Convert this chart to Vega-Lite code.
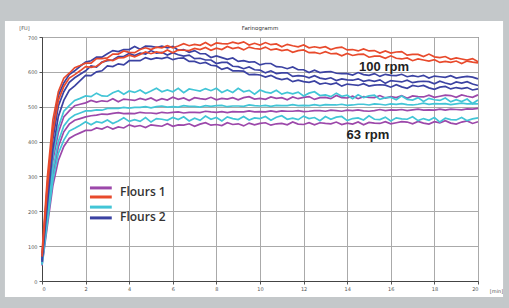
{
  "$schema": "https://vega.github.io/schema/vega-lite/v6.json",
  "width": 436,
  "height": 244,
  "autosize": {"type": "none"},
  "padding": {"left": 42, "top": 37, "right": 31, "bottom": 27},
  "background": "white",
  "config": {
    "view": {"stroke": "#555", "strokeWidth": 1},
    "axis": {"labelFontSize": 5, "labelColor": "#555", "labelFont": "DejaVu Sans", "labelOverlap": false, "tickColor": "#555", "tickSize": 3, "labelPadding": 2, "domainColor": "#444", "gridColor": "#aaaaaa", "gridWidth": 1, "titleFontSize": 5, "titleFontWeight": "normal", "titleColor": "#555", "titleFont": "DejaVu Sans"}
  },
  "datasets": {
    "frame": [
      {"t": -2.5, "t2": 22.5, "value": 746, "value2": 860},
      {"t": -2.5, "t2": 22.5, "value": -46, "value2": -130},
      {"t": -2.5, "t2": -1.7, "value": -130, "value2": 860},
      {"t": 21.15, "t2": 22.5, "value": -130, "value2": 860}
    ],
    "curves": [
      {"t":0,"R1":80,"R2":70,"B1":68,"B2":60,"B3":55,"C1":62,"P1":56,"C2":50,"P2":50,"C3":46,"P3":44},
      {"t":0.25,"R1":300,"R2":268,"B1":282,"B2":252,"B3":222,"C1":222,"P1":212,"C2":190,"P2":180,"C3":170,"P3":160},
      {"t":0.5,"R1":462,"R2":428,"B1":438,"B2":408,"B3":378,"C1":362,"P1":346,"C2":320,"P2":305,"C3":290,"P3":274},
      {"t":0.75,"R1":543,"R2":518,"B1":532,"B2":502,"B3":472,"C1":442,"P1":426,"C2":400,"P2":385,"C3":366,"P3":346},
      {"t":1,"R1":582,"R2":558,"B1":568,"B2":543,"B3":518,"C1":487,"P1":471,"C2":445,"P2":428,"C3":404,"P3":386},
      {"t":1.25,"R1":596,"R2":582,"B1":592,"B2":570,"B3":547,"C1":503,"P1":488,"C2":465,"P2":450,"C3":430,"P3":409},
      {"t":1.5,"R1":612,"R2":592,"B1":603,"B2":583,"B3":560,"C1":518,"P1":503,"C2":476,"P2":461,"C3":438,"P3":418},
      {"t":1.75,"R1":618,"R2":603,"B1":616,"B2":593,"B3":575,"C1":524,"P1":507,"C2":482,"P2":466,"C3":447,"P3":425},
      {"t":2,"R1":625,"R2":615,"B1":628,"B2":603,"B3":590,"C1":531,"P1":511,"C2":488,"P2":471,"C3":457,"P3":432},
      {"t":2.25,"R1":625,"R2":613,"B1":632,"B2":617,"B3":589,"C1":529,"P1":518,"C2":488,"P2":474,"C3":448,"P3":432},
      {"t":2.5,"R1":638,"R2":616,"B1":642,"B2":614,"B3":600,"C1":539,"P1":513,"C2":491,"P2":476,"C3":457,"P3":439},
      {"t":2.75,"R1":638,"R2":627,"B1":642,"B2":628,"B3":603,"C1":531,"P1":517,"C2":490,"P2":479,"C3":454,"P3":436},
      {"t":3,"R1":640,"R2":635,"B1":652,"B2":632,"B3":617,"C1":530,"P1":515,"C2":495,"P2":478,"C3":462,"P3":443},
      {"t":3.25,"R1":651,"R2":632,"B1":661,"B2":634,"B3":615,"C1":540,"P1":523,"C2":495,"P2":481,"C3":452,"P3":436},
      {"t":3.5,"R1":651,"R2":640,"B1":658,"B2":644,"B3":623,"C1":546,"P1":514,"C2":495,"P2":483,"C3":459,"P3":442},
      {"t":3.75,"R1":660,"R2":641,"B1":664,"B2":644,"B3":620,"C1":536,"P1":522,"C2":498,"P2":480,"C3":468,"P3":439},
      {"t":4,"R1":656,"R2":648,"B1":664,"B2":653,"B3":632,"C1":545,"P1":520,"C2":496,"P2":481,"C3":458,"P3":448},
      {"t":4.25,"R1":655,"R2":643,"B1":673,"B2":647,"B3":632,"C1":541,"P1":518,"C2":498,"P2":480,"C3":463,"P3":443},
      {"t":4.5,"R1":664,"R2":650,"B1":665,"B2":654,"B3":632,"C1":548,"P1":524,"C2":498,"P2":484,"C3":458,"P3":446},
      {"t":4.75,"R1":669,"R2":657,"B1":674,"B2":651,"B3":641,"C1":538,"P1":520,"C2":500,"P2":482,"C3":469,"P3":440},
      {"t":5,"R1":664,"R2":652,"B1":673,"B2":661,"B3":636,"C1":545,"P1":525,"C2":497,"P2":482,"C3":456,"P3":448},
      {"t":5.25,"R1":671,"R2":657,"B1":670,"B2":654,"B3":640,"C1":553,"P1":517,"C2":500,"P2":480,"C3":466,"P3":446},
      {"t":5.5,"R1":669,"R2":654,"B1":674,"B2":656,"B3":638,"C1":543,"P1":523,"C2":502,"P2":484,"C3":464,"P3":444},
      {"t":5.75,"R1":675,"R2":663,"B1":669,"B2":648,"B3":642,"C1":548,"P1":519,"C2":499,"P2":482,"C3":461,"P3":451},
      {"t":6,"R1":669,"R2":655,"B1":673,"B2":655,"B3":635,"C1":543,"P1":527,"C2":500,"P2":484,"C3":469,"P3":444},
      {"t":6.25,"R1":674,"R2":663,"B1":662,"B2":649,"B3":639,"C1":553,"P1":521,"C2":499,"P2":485,"C3":463,"P3":448},
      {"t":6.5,"R1":681,"R2":662,"B1":664,"B2":645,"B3":640,"C1":540,"P1":525,"C2":503,"P2":482,"C3":471,"P3":447},
      {"t":6.75,"R1":675,"R2":661,"B1":656,"B2":648,"B3":630,"C1":551,"P1":518,"C2":501,"P2":484,"C3":459,"P3":451},
      {"t":7,"R1":679,"R2":667,"B1":661,"B2":638,"B3":630,"C1":548,"P1":526,"C2":501,"P2":484,"C3":467,"P3":444},
      {"t":7.25,"R1":676,"R2":664,"B1":652,"B2":639,"B3":624,"C1":545,"P1":523,"C2":499,"P2":483,"C3":461,"P3":450},
      {"t":7.5,"R1":684,"R2":670,"B1":652,"B2":634,"B3":627,"C1":552,"P1":521,"C2":503,"P2":487,"C3":473,"P3":454},
      {"t":7.75,"R1":675,"R2":662,"B1":641,"B2":634,"B3":619,"C1":546,"P1":527,"C2":501,"P2":485,"C3":464,"P3":447},
      {"t":8,"R1":683,"R2":668,"B1":646,"B2":624,"B3":617,"C1":553,"P1":520,"C2":503,"P2":484,"C3":469,"P3":449},
      {"t":8.25,"R1":681,"R2":664,"B1":641,"B2":627,"B3":607,"C1":541,"P1":524,"C2":504,"P2":486,"C3":459,"P3":446},
      {"t":8.5,"R1":680,"R2":673,"B1":636,"B2":627,"B3":612,"C1":548,"P1":522,"C2":500,"P2":483,"C3":471,"P3":454},
      {"t":8.75,"R1":685,"R2":667,"B1":640,"B2":616,"B3":603,"C1":541,"P1":526,"C2":502,"P2":486,"C3":466,"P3":449},
      {"t":9,"R1":681,"R2":670,"B1":630,"B2":615,"B3":603,"C1":553,"P1":520,"C2":502,"P2":485,"C3":463,"P3":451},
      {"t":9.25,"R1":686,"R2":663,"B1":632,"B2":609,"B3":602,"C1":543,"P1":526,"C2":501,"P2":485,"C3":472,"P3":445},
      {"t":9.5,"R1":677,"R2":671,"B1":628,"B2":614,"B3":592,"C1":547,"P1":529,"C2":505,"P2":488,"C3":462,"P3":453},
      {"t":9.75,"R1":682,"R2":667,"B1":629,"B2":606,"B3":593,"C1":536,"P1":522,"C2":503,"P2":485,"C3":468,"P3":448},
      {"t":10,"R1":677,"R2":665,"B1":620,"B2":605,"B3":591,"C1":548,"P1":524,"C2":502,"P2":486,"C3":466,"P3":452},
      {"t":10.25,"R1":684,"R2":671,"B1":624,"B2":597,"B3":585,"C1":542,"P1":521,"C2":504,"P2":485,"C3":472,"P3":454},
      {"t":10.5,"R1":678,"R2":663,"B1":624,"B2":603,"B3":590,"C1":539,"P1":528,"C2":501,"P2":488,"C3":461,"P3":447},
      {"t":10.75,"R1":680,"R2":666,"B1":615,"B2":595,"B3":582,"C1":547,"P1":524,"C2":504,"P2":485,"C3":470,"P3":451},
      {"t":11,"R1":672,"R2":661,"B1":614,"B2":597,"B3":578,"C1":536,"P1":526,"C2":503,"P2":488,"C3":474,"P3":452},
      {"t":11.25,"R1":679,"R2":664,"B1":609,"B2":597,"B3":581,"C1":541,"P1":520,"C2":503,"P2":487,"C3":464,"P3":448},
      {"t":11.5,"R1":675,"R2":656,"B1":614,"B2":587,"B3":572,"C1":537,"P1":528,"C2":506,"P2":487,"C3":467,"P3":456},
      {"t":11.75,"R1":672,"R2":661,"B1":606,"B2":589,"B3":576,"C1":542,"P1":523,"C2":503,"P2":489,"C3":463,"P3":450},
      {"t":12,"R1":677,"R2":663,"B1":606,"B2":588,"B3":572,"C1":531,"P1":527,"C2":504,"P2":486,"C3":473,"P3":449},
      {"t":12.25,"R1":669,"R2":655,"B1":598,"B2":583,"B3":570,"C1":539,"P1":529,"C2":503,"P2":487,"C3":466,"P3":454},
      {"t":12.5,"R1":672,"R2":656,"B1":605,"B2":589,"B3":574,"C1":543,"P1":521,"C2":506,"P2":489,"C3":469,"P3":448},
      {"t":12.75,"R1":669,"R2":652,"B1":598,"B2":582,"B3":565,"C1":532,"P1":526,"C2":503,"P2":489,"C3":460,"P3":454},
      {"t":13,"R1":672,"R2":658,"B1":600,"B2":579,"B3":568,"C1":534,"P1":527,"C2":506,"P2":487,"C3":472,"P3":452},
      {"t":13.25,"R1":664,"R2":652,"B1":601,"B2":583,"B3":564,"C1":529,"P1":523,"C2":505,"P2":490,"C3":464,"P3":451},
      {"t":13.5,"R1":669,"R2":653,"B1":596,"B2":575,"B3":568,"C1":539,"P1":532,"C2":505,"P2":489,"C3":470,"P3":456},
      {"t":13.75,"R1":671,"R2":646,"B1":595,"B2":580,"B3":559,"C1":530,"P1":526,"C2":507,"P2":487,"C3":472,"P3":449},
      {"t":14,"R1":663,"R2":653,"B1":595,"B2":577,"B3":565,"C1":533,"P1":525,"C2":504,"P2":490,"C3":460,"P3":453},
      {"t":14.25,"R1":664,"R2":647,"B1":591,"B2":576,"B3":563,"C1":523,"P1":530,"C2":505,"P2":489,"C3":466,"P3":450},
      {"t":14.5,"R1":660,"R2":650,"B1":598,"B2":580,"B3":561,"C1":534,"P1":523,"C2":507,"P2":491,"C3":468,"P3":456},
      {"t":14.75,"R1":666,"R2":651,"B1":592,"B2":573,"B3":566,"C1":526,"P1":529,"C2":507,"P2":488,"C3":462,"P3":448},
      {"t":15,"R1":660,"R2":642,"B1":590,"B2":576,"B3":559,"C1":531,"P1":527,"C2":505,"P2":487,"C3":474,"P3":455},
      {"t":15.25,"R1":661,"R2":645,"B1":595,"B2":573,"B3":562,"C1":533,"P1":526,"C2":508,"P2":489,"C3":464,"P3":453},
      {"t":15.5,"R1":654,"R2":645,"B1":587,"B2":577,"B3":563,"C1":521,"P1":532,"C2":507,"P2":492,"C3":463,"P3":452},
      {"t":15.75,"R1":660,"R2":639,"B1":593,"B2":567,"B3":562,"C1":526,"P1":525,"C2":505,"P2":489,"C3":470,"P3":457},
      {"t":16,"R1":654,"R2":646,"B1":590,"B2":575,"B3":556,"C1":527,"P1":529,"C2":508,"P2":491,"C3":459,"P3":451},
      {"t":16.25,"R1":657,"R2":639,"B1":589,"B2":573,"B3":563,"C1":520,"P1":526,"C2":507,"P2":490,"C3":468,"P3":454},
      {"t":16.5,"R1":658,"R2":637,"B1":593,"B2":571,"B3":557,"C1":531,"P1":532,"C2":509,"P2":492,"C3":465,"P3":457},
      {"t":16.75,"R1":648,"R2":640,"B1":586,"B2":576,"B3":553,"C1":521,"P1":524,"C2":506,"P2":489,"C3":464,"P3":456},
      {"t":17,"R1":650,"R2":632,"B1":589,"B2":569,"B3":561,"C1":519,"P1":531,"C2":505,"P2":491,"C3":471,"P3":451},
      {"t":17.25,"R1":650,"R2":637,"B1":586,"B2":572,"B3":558,"C1":526,"P1":529,"C2":507,"P2":493,"C3":460,"P3":458},
      {"t":17.5,"R1":644,"R2":634,"B1":590,"B2":573,"B3":561,"C1":515,"P1":528,"C2":510,"P2":490,"C3":466,"P3":453},
      {"t":17.75,"R1":651,"R2":631,"B1":582,"B2":572,"B3":554,"C1":524,"P1":533,"C2":507,"P2":491,"C3":461,"P3":450},
      {"t":18,"R1":643,"R2":635,"B1":588,"B2":566,"B3":550,"C1":520,"P1":527,"C2":509,"P2":490,"C3":469,"P3":457},
      {"t":18.25,"R1":641,"R2":627,"B1":586,"B2":573,"B3":556,"C1":518,"P1":530,"C2":508,"P2":493,"C3":456,"P3":454},
      {"t":18.5,"R1":644,"R2":630,"B1":584,"B2":568,"B3":558,"C1":525,"P1":533,"C2":509,"P2":490,"C3":467,"P3":460},
      {"t":18.75,"R1":636,"R2":627,"B1":589,"B2":564,"B3":551,"C1":514,"P1":532,"C2":506,"P2":493,"C3":463,"P3":453},
      {"t":19,"R1":640,"R2":631,"B1":582,"B2":571,"B3":555,"C1":520,"P1":527,"C2":508,"P2":492,"C3":462,"P3":450},
      {"t":19.25,"R1":637,"R2":624,"B1":585,"B2":568,"B3":552,"C1":515,"P1":534,"C2":510,"P2":491,"C3":469,"P3":456},
      {"t":19.5,"R1":634,"R2":631,"B1":587,"B2":572,"B3":555,"C1":522,"P1":530,"C2":508,"P2":494,"C3":460,"P3":459},
      {"t":19.75,"R1":638,"R2":628,"B1":585,"B2":565,"B3":548,"C1":509,"P1":527,"C2":509,"P2":493,"C3":465,"P3":452},
      {"t":20,"R1":629,"R2":626,"B1":580,"B2":561,"B3":551,"C1":519,"P1":534,"C2":508,"P2":495,"C3":468,"P3":457}
    ],
    "swatches": [
      {"t": 2.2, "t2": 3.2, "value": 267, "key": "P1"},
      {"t": 2.2, "t2": 3.2, "value": 241, "key": "R1"},
      {"t": 2.2, "t2": 3.2, "value": 212, "key": "C1"},
      {"t": 2.2, "t2": 3.2, "value": 181, "key": "B1"}
    ],
    "legendText": [
      {"t": 3.58, "value": 255, "label": "Flours 1"},
      {"t": 3.58, "value": 184, "label": "Flours 2"}
    ],
    "rpm": [
      {"t": 15.69, "value": 614, "label": "100 rpm"},
      {"t": 14.95, "value": 419, "label": "63 rpm"}
    ],
    "titleText": [
      {"t": 10, "value": 726, "label": "Farinogramm"}
    ]
  },
  "encoding": {
    "x": {"field": "t", "type": "quantitative", "scale": {"domain": [0, 20], "nice": false},
          "axis": {"values": [0,2,4,6,8,10,12,14,16,18,20], "grid": true, "title": "[min]", "titleX": 454, "titleY": 9, "titleAlign": "center", "titleBaseline": "middle"}},
    "y": {"field": "value", "type": "quantitative", "scale": {"domain": [0, 700], "nice": false},
          "axis": {"values": [0,100,200,300,400,500,600,700], "grid": true, "title": "[FU]", "titleAngle": 0, "titleX": -18, "titleY": -10, "titleAlign": "center", "titleBaseline": "middle"}}
  },
  "layer": [
    {
      "data": {"name": "curves"},
      "transform": [{"fold": ["P1","P2","P3","C1","C2","C3","B1","B2","B3","R1","R2"], "as": ["key","value"]}],
      "mark": {"type": "line", "strokeWidth": 1.7, "interpolate": "linear"},
      "encoding": {
        "color": {"field": "key", "type": "nominal", "legend": null,
                  "scale": {"domain": ["P1","P2","P3","C1","C2","C3","B1","B2","B3","R1","R2"],
                            "range": ["#9c48aa","#9c48aa","#9c48aa","#42c5d6","#42c5d6","#42c5d6","#3b42a2","#3b42a2","#3b42a2","#e84a2c","#e84a2c"]}},
        "order": {"field": "t", "type": "quantitative"}
      }
    },
    {
      "data": {"name": "frame"},
      "mark": {"type": "rect", "fill": "#c4c8ca", "clip": false},
      "encoding": {
        "x2": {"field": "t2"},
        "y2": {"field": "value2"}
      }
    },
    {
      "data": {"name": "swatches"},
      "mark": {"type": "rule", "strokeWidth": 3},
      "encoding": {
        "x2": {"field": "t2"},
        "color": {"field": "key", "type": "nominal", "legend": null}
      }
    },
    {
      "data": {"name": "legendText"},
      "mark": {"type": "text", "align": "left", "baseline": "middle", "font": "Open Sans", "fontWeight": 600, "fontSize": 12, "color": "#333"},
      "encoding": {"text": {"field": "label"}}
    },
    {
      "data": {"name": "rpm"},
      "mark": {"type": "text", "align": "center", "baseline": "middle", "font": "Liberation Sans", "fontWeight": "bold", "fontSize": 13, "color": "#222"},
      "encoding": {"text": {"field": "label"}}
    },
    {
      "data": {"name": "titleText"},
      "mark": {"type": "text", "align": "center", "baseline": "middle", "font": "DejaVu Sans", "fontSize": 5.5, "color": "#333"},
      "encoding": {"text": {"field": "label"}}
    }
  ]
}
